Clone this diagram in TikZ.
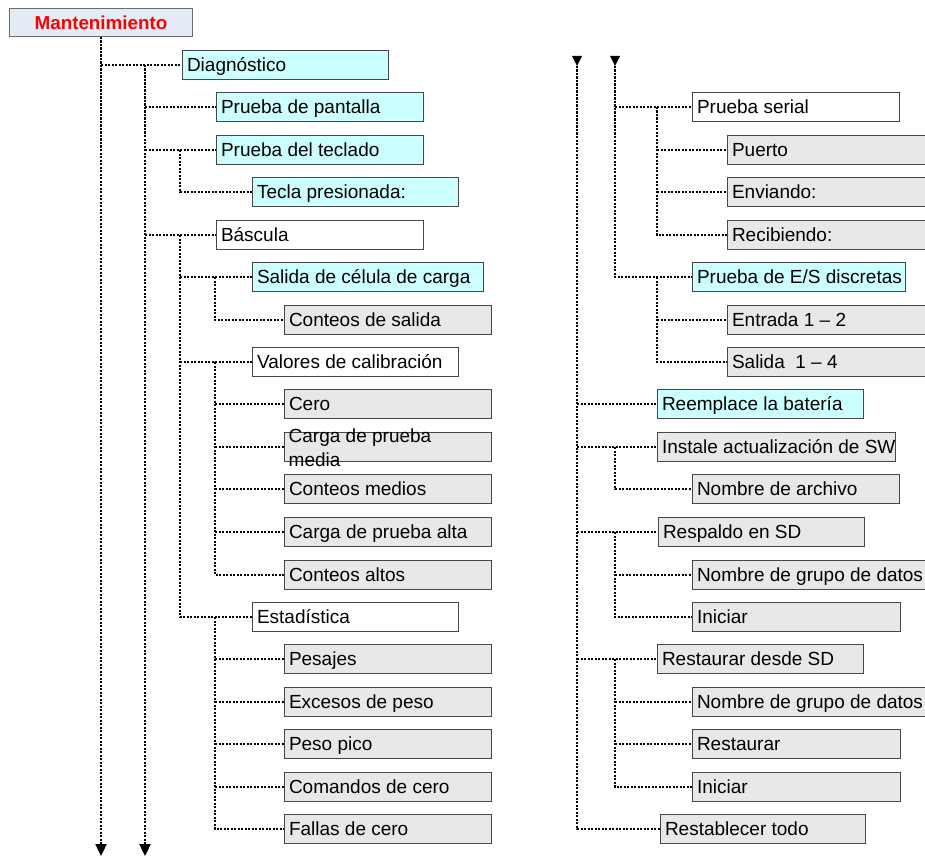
\documentclass[tikz,border=0pt]{standalone}
\usepackage{fontspec}
\setmainfont{Liberation Sans}
\usetikzlibrary{arrows.meta}
\definecolor{cyanfill}{HTML}{CCFFFF}
\definecolor{greyfill}{HTML}{E8E8E8}
\definecolor{titlefill}{HTML}{E6ECF6}
\definecolor{edge}{HTML}{474747}
\definecolor{titlered}{HTML}{FF0000}
\newcommand\lbl{\fontsize{19}{23}\selectfont}
\newcommand\ttl{\fontsize{18.8}{22}\selectfont\bfseries}
\newcommand\T[2]{\hbox to #1pt{#2\hss}}
\tikzset{
  bx/.style={draw=edge, line width=1pt, rectangle, anchor=west, inner xsep=5pt, inner ysep=0pt,
    minimum height=29pt, text height=16pt, text depth=3pt, font=\lbl},
  cbox/.style={bx, fill=cyanfill},
  gbox/.style={bx, fill=greyfill},
  wbox/.style={bx, fill=white},
  titlebox/.style={draw=edge!80, line width=1pt, fill=titlefill, minimum width=183pt, minimum height=28pt,
    inner sep=0pt, text=titlered, font=\ttl},
  con/.style={line width=2.3pt, dash pattern=on 2.4pt off 1.1pt},
  trunkarrow/.style={con, -{Triangle[width=11pt,length=12pt]}},
  freetext/.style={font=\lbl, inner sep=0pt, anchor=base west},
}
\begin{document}
\begin{tikzpicture}[x=1pt,y=-1pt]
\useasboundingbox (0,0) rectangle (925,856);
\clip (0,0) rectangle (925,856);
\fill[white] (0,0) rectangle (925,856);

% ---------------- left column ----------------
\node[titlebox] (m) at (101,22.5) {Mantenimiento};

\node[cbox] (diag)  at (181.5,65)  {\T{196}{Diagnóstico}};
\node[cbox] (pant)  at (215.5,107) {\T{197}{Prueba de pantalla}};
\node[cbox] (tecl)  at (215.5,150) {\T{197}{Prueba del teclado}};
\node[cbox] (tecla) at (251.5,192) {\T{196}{Tecla presionada:}};
\node[wbox] (basc)  at (215.5,235) {\T{197}{Báscula}};
\node[cbox] (salc)  at (251.5,277) {\T{221}{Salida de célula de carga}};
\node[gbox] (cont)  at (283.5,320) {\T{197}{Conteos de salida}};
\node[wbox] (valc)  at (251.5,362) {\T{196}{Valores de calibración}};
\node[gbox] (cero)  at (283.5,404) {\T{197}{Cero}};
\node[gbox] (cpm)   at (283.5,447) {\T{197}{}};
\node[freetext] (cpm1) at (288.5,442) {Carga de prueba};
\node[freetext] (cpm2) at (288.5,466) {media};
\node[gbox] (cmed)  at (283.5,489) {\T{197}{Conteos medios}};
\node[gbox] (cpa)   at (283.5,532) {\T{197}{Carga de prueba alta}};
\node[gbox] (calt)  at (283.5,575) {\T{197}{Conteos altos}};
\node[wbox] (est)   at (251.5,617) {\T{196}{Estadística}};
\node[gbox] (pes)   at (283.5,659) {\T{197}{Pesajes}};
\node[gbox] (exc)   at (283.5,702) {\T{197}{Excesos de peso}};
\node[gbox] (pic)   at (283.5,744) {\T{197}{Peso pico}};
\node[gbox] (com)   at (283.5,787) {\T{197}{Comandos de cero}};
\node[gbox] (fal)   at (283.5,829) {\T{197}{Fallas de cero}};

% trunks (left)
\coordinate (e1) at (101,856);
\coordinate (t2s) at (145,65);
\coordinate (e2) at (145,856);
\coordinate (s1) at (180,0);
\coordinate (s2) at (215,0);

\draw[trunkarrow] (m.south) -- (e1);
\draw[con] (m.south |- diag.west) -- (diag.west);
\draw[trunkarrow] (t2s) -- (e2);
\draw[con] (t2s |- pant.west) -- (pant.west);
\draw[con] (t2s |- tecl.west) -- (tecl.west);
\draw[con] (t2s |- basc.west) -- (basc.west);

\draw[con] (s1 |- tecl.west) -- (s1 |- tecla.west) -- (tecla.west);
\draw[con] (s1 |- basc.west) -- (s1 |- est.west) -- (est.west);
\draw[con] (s1 |- salc.west) -- (salc.west);
\draw[con] (s1 |- valc.west) -- (valc.west);

\draw[con] (s2 |- salc.west) -- (s2 |- cont.west) -- (cont.west);
\draw[con] (s2 |- valc.west) -- (s2 |- calt.west) -- (calt.west);
\draw[con] (s2 |- cero.west) -- (cero.west);
\draw[con] (s2 |- cpm.west) -- (cpm.west);
\draw[con] (s2 |- cmed.west) -- (cmed.west);
\draw[con] (s2 |- cpa.west) -- (cpa.west);
\draw[con] (s2 |- est.west) -- (s2 |- fal.west) -- (fal.west);
\draw[con] (s2 |- pes.west) -- (pes.west);
\draw[con] (s2 |- exc.west) -- (exc.west);
\draw[con] (s2 |- pic.west) -- (pic.west);
\draw[con] (s2 |- com.west) -- (com.west);

% ---------------- right column ----------------
\node[wbox] (ser)  at (691.5,107) {\T{197}{Prueba serial}};
\node[gbox] (puer) at (726.5,150) {\T{210}{Puerto}};
\node[gbox] (env)  at (726.5,192) {\T{210}{Enviando:}};
\node[gbox] (rec)  at (726.5,235) {\T{210}{Recibiendo:}};
\node[cbox] (es)   at (691.5,277) {\T{203}{Prueba de E/S discretas}};
\node[gbox] (ent)  at (726.5,320) {\T{210}{Entrada 1 – 2}};
\node[gbox] (sal)  at (726.5,362) {\T{210}{Salida~~1 – 4}};
\node[cbox] (bat)  at (656.5,404) {\T{196}{Reemplace la batería}};
\node[gbox] (sw)   at (656.5,447) {\T{228}{Instale actualización de SW}};
\node[gbox] (arch) at (691.5,489) {\T{197}{Nombre de archivo}};
\node[gbox] (resp) at (657.5,532) {\T{196}{Respaldo en SD}};
\node[gbox] (ngd1) at (691.5,575) {\T{240}{Nombre de grupo de datos}};
\node[gbox] (ini1) at (691.5,617) {\T{198}{Iniciar}};
\node[gbox] (rsd)  at (656.5,659) {\T{196}{Restaurar desde SD}};
\node[gbox] (ngd2) at (691.5,702) {\T{240}{Nombre de grupo de datos}};
\node[gbox] (rest) at (691.5,744) {\T{198}{Restaurar}};
\node[gbox] (ini2) at (691.5,787) {\T{198}{Iniciar}};
\node[gbox] (rtod) at (659.5,829) {\T{195}{Restablecer todo}};

\coordinate (ta) at (577,66);
\coordinate (tb) at (615,66);
\coordinate (s3) at (657,0);
\coordinate (s4) at (615,0);

\fill (572,56) -- (582,56) -- (577,66) -- cycle;
\fill (610,56) -- (620,56) -- (615,66) -- cycle;

\draw[con] (ta) -- (ta |- rtod.west) -- (rtod.west);
\draw[con] (ta |- bat.west) -- (bat.west);
\draw[con] (ta |- sw.west) -- (sw.west);
\draw[con] (ta |- resp.west) -- (resp.west);
\draw[con] (ta |- rsd.west) -- (rsd.west);

\draw[con] (tb) -- (tb |- es.west) -- (es.west);
\draw[con] (tb |- ser.west) -- (ser.west);

\draw[con] (s3 |- ser.west) -- (s3 |- rec.west) -- (rec.west);
\draw[con] (s3 |- puer.west) -- (puer.west);
\draw[con] (s3 |- env.west) -- (env.west);
\draw[con] (s3 |- es.west) -- (s3 |- sal.west) -- (sal.west);
\draw[con] (s3 |- ent.west) -- (ent.west);

\draw[con] (s4 |- sw.west) -- (s4 |- arch.west) -- (arch.west);
\draw[con] (s4 |- resp.west) -- (s4 |- ini1.west) -- (ini1.west);
\draw[con] (s4 |- ngd1.west) -- (ngd1.west);
\draw[con] (s4 |- rsd.west) -- (s4 |- ini2.west) -- (ini2.west);
\draw[con] (s4 |- ngd2.west) -- (ngd2.west);
\draw[con] (s4 |- rest.west) -- (rest.west);
\end{tikzpicture}
\end{document}
